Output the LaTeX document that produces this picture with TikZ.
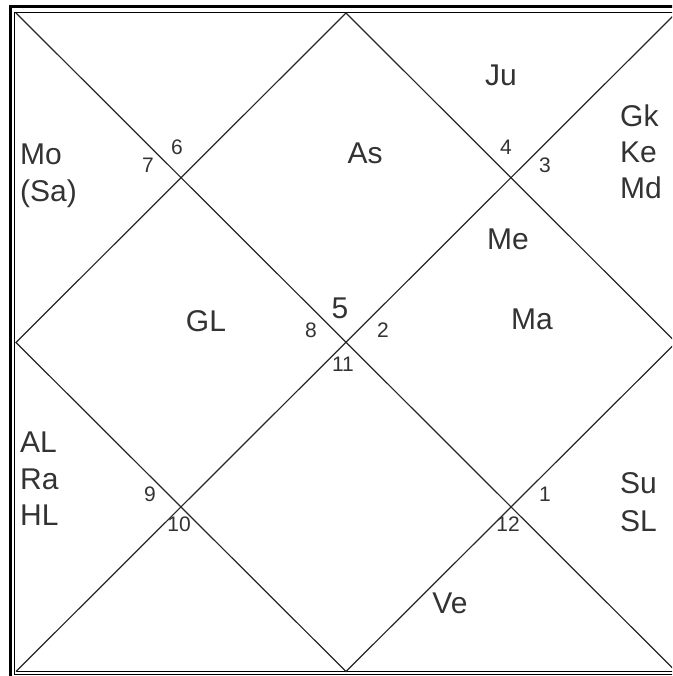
\documentclass[tikz,border=0pt]{standalone}
\usepackage{fontspec}
\setmainfont{Liberation Sans}
\begin{document}
\begin{tikzpicture}[x=1pt,y=-1pt,
  lbl/.style={font=\fontsize{30}{36}\selectfont,text=black!80,inner sep=0pt,anchor=base},
  side/.style={lbl,anchor=base west},
  num/.style={font=\fontsize{21}{25}\selectfont,text=black!80,inner sep=0pt,anchor=base},
  ln/.style={line width=1.2pt,black!85}]
 \useasboundingbox (0,0) rectangle (672,676);
 \clip (0,0) rectangle (672,676);
 % frame
 \draw[line width=3pt] (10.5,6.5) rectangle (700,700);
 \draw[line width=1pt] (14.5,12.5) rectangle (690,674.5);
 % chart corners and midpoints
 \coordinate (tl) at (16,13);
 \coordinate (tr) at (676,13);
 \coordinate (bl) at (16,671.5);
 \coordinate (br) at (676,671.5);
 \coordinate (mt) at (346,13);
 \coordinate (mr) at (676,342.5);
 \coordinate (mb) at (346,671.5);
 \coordinate (ml) at (16,342.5);
 \draw[line width=1pt] (bl)--(br);
 \draw[ln] (tl)--(br) (tr)--(bl);
 \draw[ln] (mt)--(mr)--(mb)--(ml)--cycle;
 % planets
 \node[lbl] (ju) at (501,86) {Ju};
 \node[lbl] (as) at (365,164) {As};
 \node[lbl] (me) at (508,249) {Me};
 \node[lbl] (gl) at (206,331) {GL};
 \node[lbl] (ma) at (532,329) {Ma};
 \node[lbl] (ve) at (450,613) {Ve};
 \node[side] (mo) at (20,165) {Mo};
 \node[side] (sa) at (20,201) {(Sa)};
 \node[side] (gk) at (620,127) {Gk};
 \node[side] (ke) at (620,163) {Ke};
 \node[side] (md) at (620,199) {Md};
 \node[side] (al) at (20,452) {AL};
 \node[side] (ra) at (20,489) {Ra};
 \node[side] (hl) at (20,525) {HL};
 \node[side] (su) at (620,493) {Su};
 \node[side] (sl) at (620,531) {SL};
 % house numbers
 \node[num,font=\fontsize{30}{36}\selectfont] (h5) at (340,318) {5};
 \node[num] (h6) at (177,155) {6};
 \node[num] (h7) at (148,173) {7};
 \node[num] (h4) at (506,155) {4};
 \node[num] (h3) at (545,173) {3};
 \node[num] (h8) at (311,337) {8};
 \node[num] (h2) at (383,337) {2};
 \node[num] (h11) at (343,371) {11};
 \node[num] (h9) at (150,501) {9};
 \node[num] (h10) at (179,531) {10};
 \node[num] (h1) at (545,501) {1};
 \node[num] (h12) at (508,531) {12};
\end{tikzpicture}
\end{document}
